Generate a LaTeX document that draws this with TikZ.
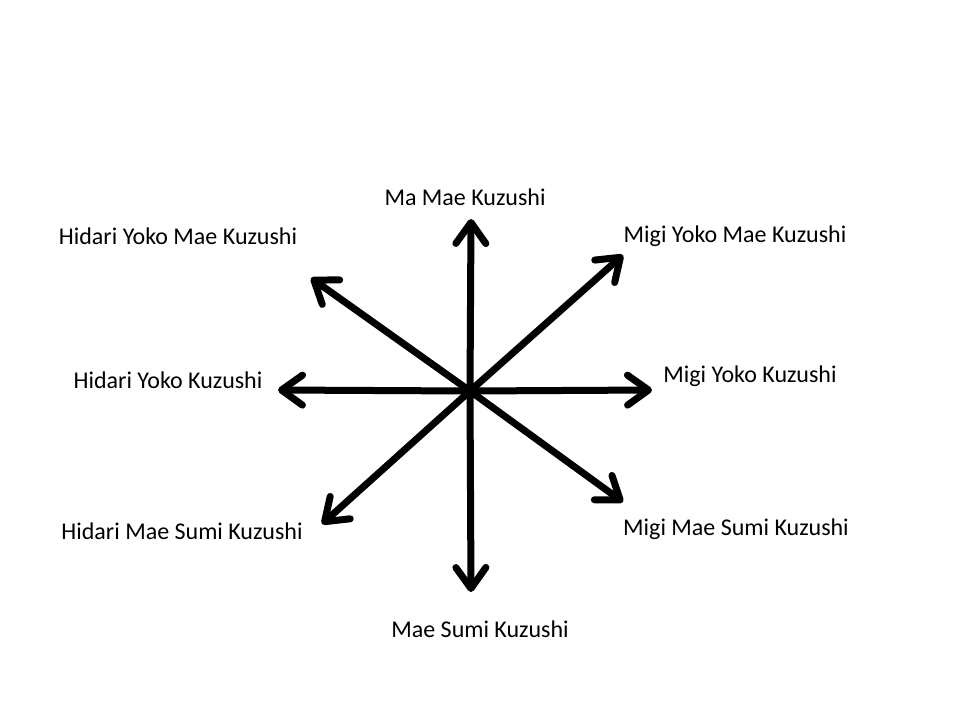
\documentclass[tikz,border=0pt]{standalone}
\usepackage{fontspec}
\setmainfont{Carlito}
\usetikzlibrary{arrows.meta}

\tikzset{
    kuzushi/.style={line width=7pt, -{Straight Barb[length=21pt, width=30pt, round]}},
    napr/.style={font=\fontsize{24}{28}\selectfont, inner sep=0pt}
}

\begin{document}
\begin{tikzpicture}[x=1pt, y=-1pt]
    % Рамка
    \useasboundingbox (0, 0) rectangle (960, 720);

    % Центр
    \coordinate (c) at (470, 391);

    % Концы стрелок
    \coordinate (n) at (471, 219);
    \coordinate (s) at (471, 592);
    \coordinate (w) at (278, 390);
    \coordinate (e) at (652, 390);
    \coordinate (ne) at (623, 255);
    \coordinate (nw) at (311, 278);
    \coordinate (sw) at (322, 524);
    \coordinate (se) at (623, 502);

    % Стрелки
    \foreach \t in {n, s, w, e, ne, nw, sw, se}
        \draw[kuzushi] (c) -- (\t);

    % Подписи
    \node[napr] (lN) at (465, 197) {Ma Mae Kuzushi};
    \node[napr] (lNE) at (735, 236) {Migi Yoko Mae Kuzushi};
    \node[napr] (lNW) at (178, 236) {Hidari Yoko Mae Kuzushi};
    \node[napr] (lW) at (168, 380) {Hidari Yoko Kuzushi};
    \node[napr] (lE) at (750, 376) {Migi Yoko Kuzushi};
    \node[napr] (lSW) at (182, 531) {Hidari Mae Sumi Kuzushi};
    \node[napr] (lSE) at (736, 529) {Migi Mae Sumi Kuzushi};
    \node[napr] (lS) at (480, 629) {Mae Sumi Kuzushi};
\end{tikzpicture}
\end{document}
